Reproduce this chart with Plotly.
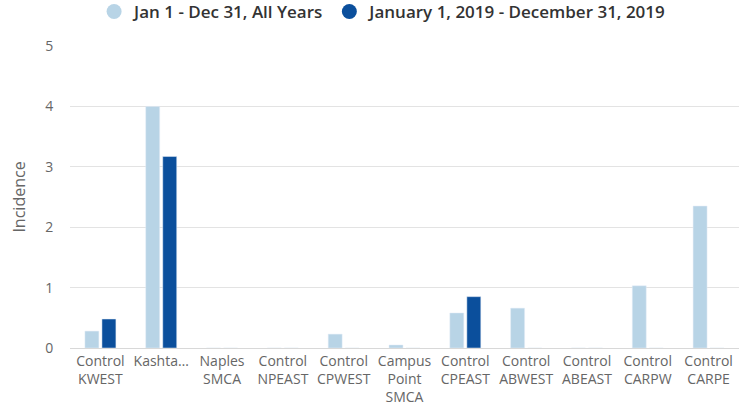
import plotly.graph_objects as go

categories = ["Control<br>KWEST", "Kashta…", "Naples<br>SMCA", "Control<br>NPEAST", "Control<br>CPWEST",
              "Campus<br>Point<br>SMCA", "Control<br>CPEAST", "Control<br>ABWEST", "Control<br>ABEAST",
              "Control<br>CARPW", "Control<br>CARPE"]
all_years = [0.28, 4.0, 0, 0, 0.23, 0.05, 0.58, 0.66, 0, 1.03, 2.35]
year_2019 = [0.48, 3.17, 0, 0, 0, 0, 0.85, 0, 0, 0, 0]
series_names = ["Jan 1 - Dec 31, All Years", "January 1, 2019 - December 31, 2019"]
colors = ["#b8d4e6", "#0b4f9c"]

fig = go.Figure()
for name, vals, c in zip(series_names, [all_years, year_2019], colors):
    fig.add_trace(go.Bar(x=categories, y=vals, name=name, marker_color=c, showlegend=False))
for name, c in zip(series_names, colors):
    fig.add_trace(go.Scatter(x=[None], y=[None], mode="markers", name=name,
                             marker=dict(symbol="circle", size=15, color=c)))

fig.update_layout(
    width=740, height=411,
    margin=dict(l=70, r=1, t=46, b=63),
    paper_bgcolor="white", plot_bgcolor="white",
    barmode="group", bargap=0.44, bargroupgap=0.18,
    font=dict(family="Open Sans", color="#666666", size=14),
    legend=dict(orientation="h", x=0.468, xanchor="center", y=0.971, yanchor="middle",
                yref="container", font=dict(size=17, color="#333333", weight=600),
                itemwidth=30, tracegroupgap=0),
    xaxis=dict(showgrid=False, showline=True, linecolor="#d8d8d8", linewidth=1,
               ticks="", tickfont=dict(size=14, color="#666666"), automargin=False),
    yaxis=dict(range=[0, 5], dtick=1, showgrid=True, gridcolor="#e3e3e3", zeroline=False,
               ticks="outside", ticklen=13, tickcolor="rgba(0,0,0,0)", automargin=False,
               title=dict(text="Incidence", font=dict(size=16, color="#666666"), standoff=15),
               tickfont=dict(size=14, color="#666666")),
)
fig.write_html("out.html", config={"displayModeBar": False},
               post_script="document.body.style.margin='0';")
